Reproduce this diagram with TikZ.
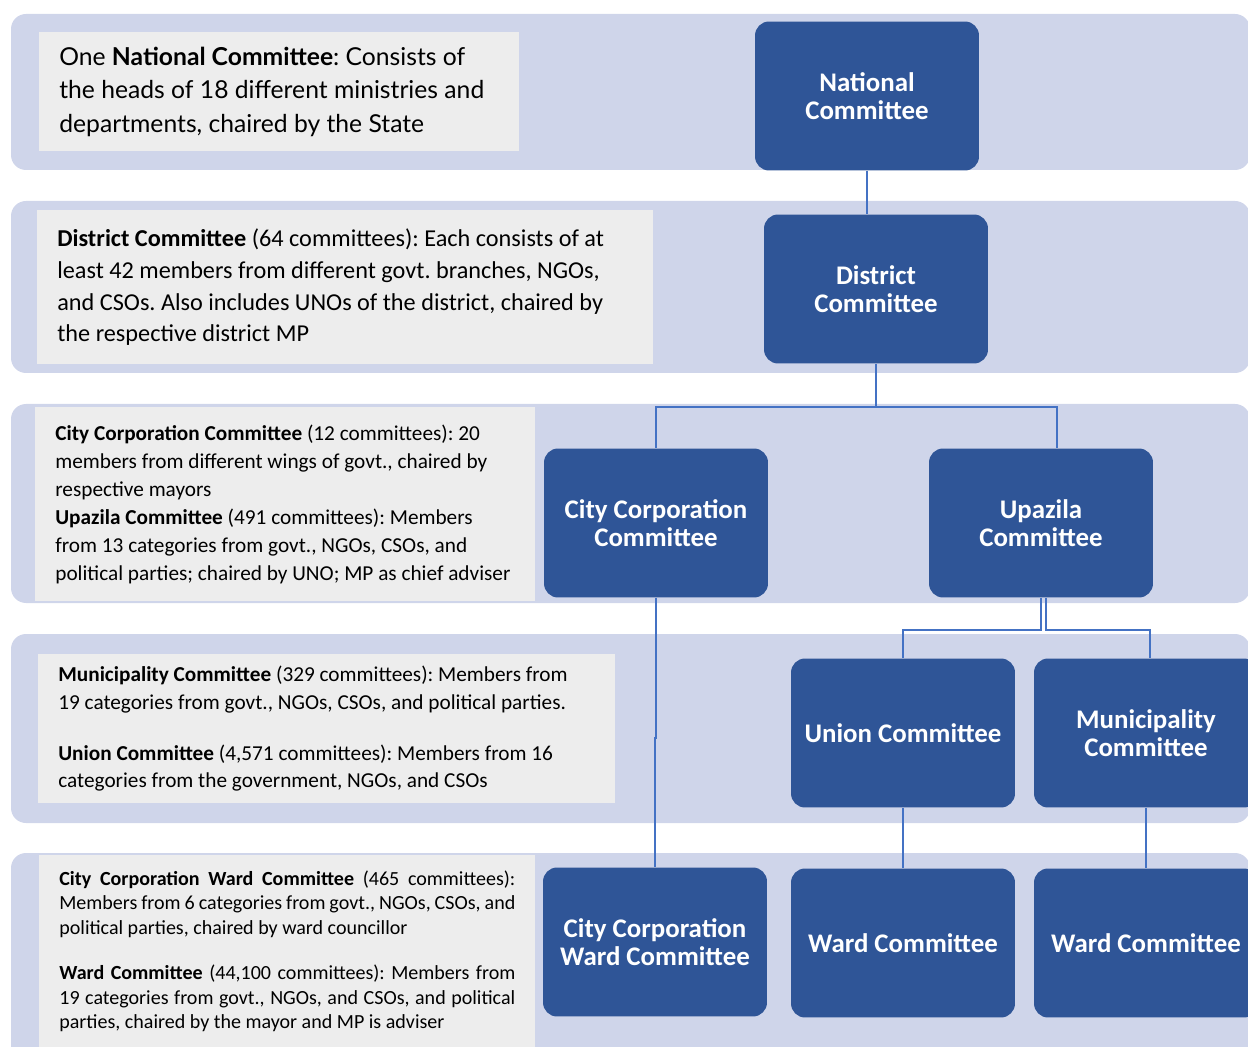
\documentclass[tikz,border=0pt]{standalone}
\usepackage{fontspec}
\setmainfont{Carlito}
\newfontfamily\plexfont{Lato}
\usetikzlibrary{positioning}
\definecolor{bandblue}{HTML}{CFD5EA}
\definecolor{notegray}{HTML}{EDEDED}
\definecolor{boxblue}{HTML}{2F5597}
\definecolor{linkblue}{HTML}{4472C4}
\newcommand{\jline}[1]{\leavevmode\hbox to 9.12cm{#1}}
\frenchspacing

\begin{document}
\begin{tikzpicture}  [
        x = 0.02cm, y = -0.02cm,
        band/.style = {fill=bandblue, rounded corners=0.3cm},
        note/.style = {fill=notegray, anchor=north west, inner xsep=0.4cm, inner ysep=0pt, align=left,
            execute at begin node={\spaceskip=0pt\xspaceskip=0pt}},
        committee/.style = {rectangle, rounded corners=0.28cm, fill=boxblue, text=white,
            minimum width=4.48cm, minimum height=2.98cm, align=center,
            font=\bfseries\fontsize{15.3}{16}\selectfont},
        link/.style = {draw=linkblue, line width=1pt}
    ]

    \useasboundingbox (0,0) rectangle (1248,1047);

    % levels
    \fill[band] (11,14)  rectangle (1250,170);
    \fill[band] (11,201) rectangle (1250,373);
    \fill[band] (11,404) rectangle (1250,603);
    \fill[band] (11,634) rectangle (1250,823);
    \fill[band] (11,853) rectangle (1250,1070);

    % descriptions
    \node[note, text width=8.8cm, minimum height=2.38cm, font=\plexfont\fontsize{14.05}{19}\selectfont]
        (natnote) at (39,32)
        {One \textbf{National Committee}: Consists of\\
         the heads of 18 different ministries and\\
         departments, chaired by the State};
    \node[note, text width=11.52cm, minimum height=3.08cm, font=\fontsize{13.8}{18.1}\selectfont]
        (distnote) at (37,210)
        {\textbf{District Committee} (64 committees): Each consists of at\\
         least 42 members from different govt. branches, NGOs,\\
         and CSOs. Also includes UNOs of the district, chaired by\\
         the respective district MP};
    \node[note, text width=9.2cm, minimum height=3.88cm, font=\fontsize{12.1}{15.9}\selectfont]
        (upanote) at (35,407)
        {\textbf{City Corporation Committee} (12 committees): 20\\
         members from different wings of govt., chaired by\\
         respective mayors\\
         \textbf{Upazila Committee} (491 committees): Members\\
         from 13 categories from govt., NGOs, CSOs, and\\
         political parties; chaired by UNO; MP as chief adviser};
    \node[note, text width=10.74cm, minimum height=2.98cm, font=\fontsize{12.1}{15.9}\selectfont]
        (uninote) at (38,654)
        {\textbf{Municipality Committee} (329 committees): Members from\\
         19 categories from govt., NGOs, CSOs, and political parties.\\[0.45cm]
         \textbf{Union Committee} (4,571 committees): Members from 16\\
         categories from the government, NGOs, and CSOs};
    \node[note, text width=9.12cm, minimum height=3.84cm, font=\fontsize{11.4}{13.9}\selectfont]
        (wardnote) at (39,855)
        {\jline{\textbf{City Corporation Ward Committee} (465 committees):}\\
         \jline{Members from 6 categories from govt., NGOs, CSOs, and}\\
         political parties, chaired by ward councillor\\[0.42cm]
         \jline{\textbf{Ward Committee} (44,100 committees): Members from}\\
         \jline{19 categories from govt., NGOs, and CSOs, and political}\\
         parties, chaired by the mayor and MP is adviser};

    % committees
    \node[committee] (nat)   at (867,96)   {National\\Committee};
    \node[committee] (dist)  at (876,289)  {District\\Committee};
    \node[committee] (ccc)   at (656,523)  {City Corporation\\Committee};
    \node[committee] (upa)   at (1041,523) {Upazila\\Committee};
    \node[committee] (uni)   at (903,733)  {Union Committee};
    \node[committee] (mun)   at (1146,733) {Municipality\\Committee};
    \node[committee] (ccw)   at (655,942)  {City Corporation\\Ward Committee};
    \node[committee] (ward1) at (903,943)  {Ward Committee};
    \node[committee] (ward2) at (1146,943) {Ward Committee};

    \draw[link] (nat.south) -- (nat.south |- dist.north);
    \draw[link] (dist.south) -- ++(0,43) -| (ccc.north);
    \draw[link] (dist.south) -- ++(0,43) -| ([xshift=0.32cm]upa.north);
    \draw[link] (upa.south) -- ++(0,32) -| (uni.north);
    \draw[link] ([xshift=0.1cm]upa.south) -- ++(0,32) -| ([xshift=0.08cm]mun.north);
    \draw[link] (ccc.south) -- ++(0,140) -| (ccw.north);
    \draw[link] (uni.south) -- (ward1.north);
    \draw[link] (mun.south) -- (ward2.north);

\end{tikzpicture}
\end{document}
